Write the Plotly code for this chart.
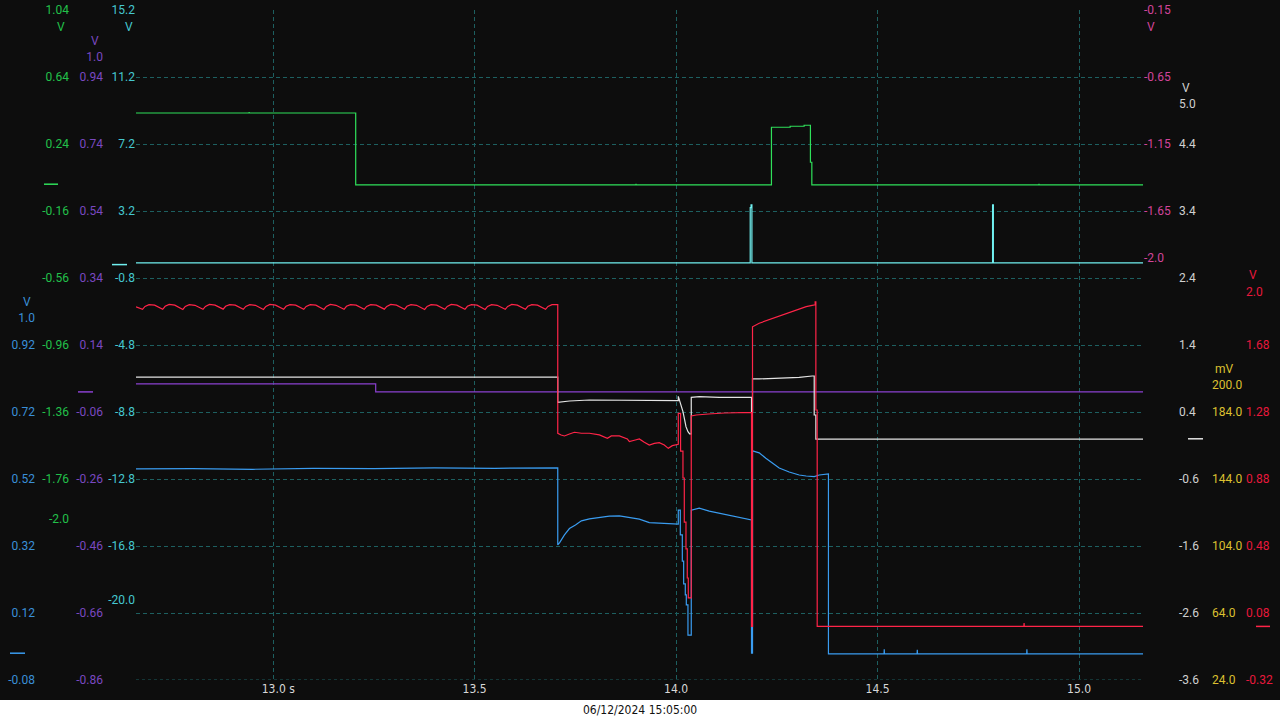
import plotly.graph_objects as go

# ---------------- data (time in s) ----------------
x_ticks = [13.0, 13.5, 14.0, 14.5, 15.0]
x_tick_text = ["\u00a0\u00a0\u00a013.0 s", "13.5", "14.0", "14.5", "15.0"]
date_label = "06/12/2024 15:05:00"

# axis tick values / labels
cyan_ticks = [15.2, 11.2, 7.2, 3.2, -0.8, -4.8, -8.8, -12.8, -16.8, -20.0]
cyan_text = ["15.2", "11.2", "7.2", "3.2", "-0.8", "-4.8", "-8.8", "-12.8", "-16.8", "-20.0"]
purple_ticks = [1.0, 0.94, 0.74, 0.54, 0.34, 0.14, -0.06, -0.26, -0.46, -0.66, -0.86]
purple_text = ["1.0", "0.94", "0.74", "0.54", "0.34", "0.14", "-0.06", "-0.26", "-0.46", "-0.66", "-0.86"]
green_ticks = [1.04, 0.64, 0.24, -0.16, -0.56, -0.96, -1.36, -1.76, -2.0]
green_text = ["1.04", "0.64", "0.24", "-0.16", "-0.56", "-0.96", "-1.36", "-1.76", "-2.0"]
blue_ticks = [1.0, 0.92, 0.72, 0.52, 0.32, 0.12, -0.08]
blue_text = ["1.0", "0.92", "0.72", "0.52", "0.32", "0.12", "-0.08"]
pink_ticks = [-0.15, -0.65, -1.15, -1.65, -2.0]
pink_text = ["-0.15", "-0.65", "-1.15", "-1.65", "-2.0"]
white_ticks = [5.0, 4.4, 3.4, 2.4, 1.4, 0.4, -0.6, -1.6, -2.6, -3.6]
white_text = ["5.0", "4.4", "3.4", "2.4", "1.4", "0.4", "-0.6", "-1.6", "-2.6", "-3.6"]
yellow_ticks = [200.0, 184.0, 144.0, 104.0, 64.0, 24.0]
yellow_text = ["200.0", "184.0", "144.0", "104.0", "64.0", "24.0"]
red_ticks = [2.0, 1.68, 1.28, 0.88, 0.48, 0.08, -0.32]
red_text = ["2.0", "1.68", "1.28", "0.88", "0.48", "0.08", "-0.32"]

# green channel (V)
green_t = [12.6597, 12.94, 12.9405, 12.941, 13.2049, 13.2049, 13.9, 13.9005, 13.901, 14.2366, 14.2366,
           14.2830, 14.2830, 14.3177, 14.3177, 14.3333, 14.3333, 14.3368, 14.3368, 14.90, 14.9005, 14.901, 15.1586]
green_v = [0.425, 0.425, 0.431, 0.425, 0.425, -0.004, -0.004, 0.002, -0.004, -0.004, 0.340,
           0.340, 0.346, 0.346, 0.352, 0.352, 0.131, 0.131, -0.004, -0.004, 0.002, -0.004, -0.004]

# purple channel (V)
purple_t = [12.6597, 13.2545, 13.2545, 15.1586]
purple_v = [0.024, 0.024, 0.0, 0.0]

# cyan channel (V)
cyan_t = [12.6597, 14.1839, 14.1839, 14.1860, 14.1860, 14.1881, 14.1881,
          14.7853, 14.7853, 14.7873, 14.7873, 15.1586]
cyan_v = [0.1, 0.1, 3.40, 3.40, 3.56, 3.56, 0.1,
          0.1, 3.56, 3.56, 0.1, 0.1]

# red channel (V)
red_t = [12.6597,
         12.676, 12.682, 12.692, 12.706, 12.716,
         12.726, 12.732, 12.742, 12.756, 12.766,
         12.776, 12.782, 12.792, 12.806, 12.816,
         12.826, 12.832, 12.842, 12.856, 12.866,
         12.876, 12.882, 12.892, 12.906, 12.916,
         12.926, 12.932, 12.942, 12.956, 12.966,
         12.976, 12.982, 12.992, 13.006, 13.016,
         13.026, 13.032, 13.042, 13.056, 13.066,
         13.076, 13.082, 13.092, 13.106, 13.116,
         13.126, 13.132, 13.142, 13.156, 13.166,
         13.176, 13.182, 13.192, 13.206, 13.216,
         13.226, 13.232, 13.242, 13.256, 13.266,
         13.276, 13.282, 13.292, 13.306, 13.316,
         13.326, 13.332, 13.342, 13.356, 13.366,
         13.376, 13.382, 13.392, 13.406, 13.416,
         13.426, 13.432, 13.442, 13.456, 13.466,
         13.476, 13.482, 13.492, 13.506, 13.516,
         13.526, 13.532, 13.542, 13.556, 13.566,
         13.576, 13.582, 13.592, 13.606, 13.616,
         13.626, 13.632, 13.642, 13.656, 13.666,
         13.676, 13.682, 13.692, 13.7063,
         13.7063, 13.7147, 13.7229, 13.7353, 13.7477, 13.7650, 13.7848, 13.8096, 13.8294,
         13.8393, 13.8592, 13.8790, 13.8840, 13.8988, 13.9087, 13.9211, 13.9335, 13.9459,
         13.9583, 13.9707, 13.9806, 13.9906, 14.0054,
         14.0054, 14.0111, 14.0111, 14.0170, 14.0170, 14.0203, 14.0203, 14.0245, 14.0245,
         14.0277, 14.0277, 14.0302, 14.0302, 14.0376, 14.0376,
         14.0500, 14.0800, 14.1200, 14.1871, 14.1871, 14.1896, 14.1896,
         14.2062, 14.2236, 14.2385, 14.2558, 14.2732, 14.2881, 14.3054, 14.3228, 14.3377, 14.3451,
         14.3451, 14.3468, 14.3468, 14.3501, 14.3501,
         14.8630, 14.8635, 14.8640, 15.1586]
red_v = [1.908,
         1.893, 1.910, 1.921, 1.918, 1.905,
         1.893, 1.911, 1.922, 1.918, 1.904,
         1.892, 1.910, 1.921, 1.917, 1.905,
         1.893, 1.910, 1.922, 1.918, 1.905,
         1.894, 1.911, 1.921, 1.918, 1.904,
         1.893, 1.910, 1.921, 1.917, 1.905,
         1.892, 1.910, 1.922, 1.918, 1.905,
         1.893, 1.911, 1.921, 1.918, 1.904,
         1.893, 1.910, 1.921, 1.918, 1.905,
         1.892, 1.910, 1.922, 1.917, 1.905,
         1.893, 1.911, 1.921, 1.918, 1.904,
         1.893, 1.910, 1.921, 1.918, 1.905,
         1.894, 1.910, 1.922, 1.918, 1.905,
         1.893, 1.911, 1.921, 1.917, 1.904,
         1.892, 1.910, 1.921, 1.918, 1.905,
         1.893, 1.910, 1.922, 1.918, 1.905,
         1.893, 1.911, 1.921, 1.918, 1.904,
         1.892, 1.910, 1.921, 1.917, 1.905,
         1.893, 1.910, 1.922, 1.918, 1.905,
         1.893, 1.911, 1.921, 1.918, 1.904,
         1.893, 1.910, 1.921, 1.921,
         1.153, 1.143, 1.137, 1.149, 1.159, 1.153, 1.153, 1.143, 1.123,
         1.137, 1.137, 1.119, 1.103, 1.113, 1.119, 1.099, 1.083, 1.093,
         1.097, 1.083, 1.063, 1.079, 1.087,
         1.272, 1.272, 1.047, 1.047, 0.886, 0.886, 0.623, 0.623, 0.463,
         0.463, 0.289, 0.289, 0.170, 0.170, 1.256,
         1.262, 1.268, 1.274, 1.278, 0.0, 0.0, 1.789,
         1.810, 1.825, 1.835, 1.849, 1.863, 1.879, 1.893, 1.909, 1.917, 1.920,
         1.937, 1.937, 1.292, 1.292, 0.0,
         0.0, 0.02, 0.0, 0.0]

# blue channel (V)
blue_t = [12.6597, 12.80, 12.95, 13.10, 13.25, 13.40, 13.55, 13.7063,
          13.7063, 13.7110, 13.7229, 13.7353, 13.7502, 13.7650, 13.7848, 13.8096, 13.8344,
          13.8592, 13.8840, 13.9087, 13.9335, 13.9583, 13.9831, 14.0054,
          14.0054, 14.0104, 14.0104, 14.0154, 14.0154, 14.0187, 14.0187, 14.0228, 14.0228,
          14.0253, 14.0253, 14.0294, 14.0294, 14.0376, 14.0376,
          14.0574, 14.0822, 14.1070, 14.1317, 14.1565, 14.1763, 14.1871, 14.1871, 14.1896, 14.1896,
          14.2062, 14.2227, 14.2385, 14.2558, 14.2806, 14.3054, 14.3228, 14.3427, 14.3551, 14.3780,
          14.3780, 14.516, 14.5165, 14.517, 14.598, 14.5985, 14.599, 14.870, 14.8705, 14.871, 15.1586]
blue_v = [0.550, 0.551, 0.549, 0.552, 0.551, 0.553, 0.552, 0.553,
          0.323, 0.330, 0.353, 0.372, 0.383, 0.395, 0.401, 0.406, 0.409,
          0.410, 0.406, 0.400, 0.390, 0.388, 0.385, 0.385,
          0.427, 0.427, 0.353, 0.353, 0.275, 0.275, 0.207, 0.207, 0.174,
          0.174, 0.144, 0.144, 0.054, 0.054, 0.427,
          0.433, 0.424, 0.418, 0.410, 0.406, 0.400, 0.398, 0.0, 0.0, 0.604,
          0.598, 0.582, 0.568, 0.553, 0.541, 0.532, 0.529, 0.527, 0.532, 0.535,
          -0.002, -0.002, 0.012, -0.002, -0.002, 0.010, -0.002, -0.002, 0.012, -0.002, -0.002]

# white channel (V)
white_t = [12.6597, 13.7063, 13.7063, 13.7353, 13.7848, 13.9583, 14.0054,
           14.0054, 14.0113, 14.0170, 14.0212, 14.0245, 14.0294, 14.0336, 14.0376,
           14.0376, 14.0574, 14.1070, 14.1871, 14.1871, 14.1896, 14.1896,
           14.2062, 14.2558, 14.3054, 14.3377, 14.3427, 14.3427, 14.3468, 14.3468, 15.1586]
white_v = [0.922, 0.922, 0.545, 0.564, 0.579, 0.572, 0.570,
           0.634, 0.519, 0.405, 0.281, 0.181, 0.106, 0.072, 0.072,
           0.619, 0.628, 0.619, 0.619, 0.405, 0.405, 0.893,
           0.893, 0.905, 0.918, 0.937, 0.937, 0.355, 0.355, -0.005, -0.005]

# ---------------- styling ----------------
BG = "#0d0d0d"
GRID = "#1d5f60"
C_GREEN_T, C_GREEN = "#22c04a", "#2fe05a"
C_PURPLE_T, C_PURPLE = "#7a48c0", "#8a40d0"
C_CYAN_T, C_CYAN = "#45c8d0", "#70f0f0"
C_BLUE_T, C_BLUE = "#3a8fd8", "#3a9cf0"
C_PINK_T = "#d2449a"
C_WHITE_T, C_WHITE = "#d0d0d0", "#e4e4e4"
C_YELLOW_T = "#dcc030"
C_RED_T, C_RED = "#e8183c", "#ff2448"

W, H = 1280, 720
PL, PR = 136, 1143   # plot area left/right px
PT, PB = 10, 680     # plot area top/bottom px
X_RANGE = [12.6597, 15.1586]

fig = go.Figure()

def add(t, v, color, yax):
    fig.add_trace(go.Scatter(x=t, y=v, mode="lines", yaxis=yax,
                             line=dict(color=color, width=1.2), hoverinfo="skip", showlegend=False))

add(blue_t, blue_v, C_BLUE, "y5")
add(red_t, red_v, C_RED, "y9")
add(white_t, white_v, C_WHITE, "y7")
add(green_t, green_v, C_GREEN, "y4")
add(cyan_t, cyan_v, C_CYAN, "y2")
add(purple_t, purple_v, C_PURPLE, "y3")

font_lbl = "Roboto, Noto Sans, sans-serif"

def yax(rng, ticks, text, color, side, pos=None, anchor=None):
    d = dict(range=rng, tickvals=ticks, ticktext=text, showgrid=False, zeroline=False,
             showline=False, ticks="", side=side, overlaying="y", fixedrange=True,
             tickfont=dict(color=color, size=12, family=font_lbl))
    if anchor:
        d["anchor"] = anchor
    else:
        d["anchor"] = "free"
        d["position"] = pos
    return d

def px(x):
    return x / W

fig.update_layout(
    width=W, height=H,
    paper_bgcolor=BG, plot_bgcolor=BG,
    margin=dict(l=0, r=0, t=PT, b=H - PB),
    xaxis=dict(domain=[px(PL), px(PR)], range=X_RANGE, tickvals=x_ticks, ticktext=x_tick_text,
               showgrid=True, gridcolor=GRID, griddash="4px,3px", gridwidth=1, zeroline=False,
               showline=False, ticks="", fixedrange=True,
               tickfont=dict(color="#d8d8d8", size=12, family="DejaVu Sans Condensed, Roboto")),
    yaxis=dict(range=[0, 10], tickvals=[1, 2, 3, 4, 5, 6, 7, 8, 9, 10], showticklabels=False,
               showgrid=True, gridcolor=GRID, griddash="4px,3px", gridwidth=1, zeroline=False,
               ticks="", fixedrange=True),
    yaxis2=yax([-24.8, 15.2], cyan_ticks, cyan_text, C_CYAN_T, "left", anchor="x"),
    yaxis3=yax([-0.86, 1.14], purple_ticks, purple_text, C_PURPLE_T, "left", pos=px(103)),
    yaxis4=yax([-2.96, 1.04], green_ticks, green_text, C_GREEN_T, "left", pos=px(69)),
    yaxis5=yax([-0.08, 1.92], blue_ticks, blue_text, C_BLUE_T, "left", pos=px(35)),
    yaxis6=yax([-5.15, -0.15], pink_ticks, pink_text, C_PINK_T, "right", anchor="x"),
    yaxis7=yax([-3.6, 6.4], white_ticks, white_text, C_WHITE_T, "right", pos=px(1178)),
    yaxis8=yax([24.0, 424.0], yellow_ticks, yellow_text, C_YELLOW_T, "right", pos=px(1211)),
    yaxis9=yax([-0.32, 3.68], red_ticks, red_text, C_RED_T, "right", pos=px(1245)),
)

# bottom dotted axis line
fig.add_shape(type="line", xref="paper", yref="y", x0=px(PL), x1=px(PR), y0=0, y1=0,
              line=dict(color=GRID, width=1, dash="dot"))

# white strip with date
fig.add_shape(type="rect", xref="paper", yref="paper", x0=0, x1=1,
              y0=-(H - PB) / (PB - PT), y1=-(700 - PB) / (PB - PT),
              fillcolor="#ffffff", line=dict(width=0), layer="below")
fig.add_annotation(text=date_label, xref="paper", yref="paper", x=0.5, y=-(710 - PB) / (PB - PT),
                   showarrow=False, xanchor="center", yanchor="middle",
                   font=dict(color="#111111", size=12, family="DejaVu Sans Condensed, Roboto"))

# unit labels
units = [
    ("V", 67, "right", "y4", 1.04, -17, C_GREEN_T),
    ("V", 135, "right", "y2", 15.2, -17, C_CYAN_T),
    ("V", 101, "right", "y3", 1.0, 16, C_PURPLE_T),
    ("V", 33, "right", "y5", 1.0, 16, C_BLUE_T),
    ("V", 1145, "left", "y6", -0.15, -17, C_PINK_T),
    ("V", 1180, "left", "y7", 5.0, 16, C_WHITE_T),
    ("mV", 1213, "left", "y8", 200.0, 16, C_YELLOW_T),
    ("V", 1247, "left", "y9", 2.0, 16, C_RED_T),
]
for txt, xp, anc, yr, yv, ys, col in units:
    fig.add_annotation(text=txt, xref="paper", yref=yr, x=px(xp), y=yv, yshift=ys,
                       xanchor=anc, yanchor="middle", showarrow=False,
                       font=dict(color=col, size=12, family=font_lbl))

# zero-level markers
markers = [
    (44, 58, "y4", C_GREEN),
    (112, 127, "y2", C_CYAN),
    (78, 93, "y3", C_PURPLE),
    (10, 25, "y5", C_BLUE),
    (1188, 1203, "y7", C_WHITE),
    (1256, 1270, "y9", C_RED),
]
for x0, x1, yr, col in markers:
    fig.add_shape(type="line", xref="paper", yref=yr, x0=px(x0), x1=px(x1), y0=0, y1=0,
                  line=dict(color=col, width=1.5))

fig.write_html("out.html", config={"displayModeBar": False},
               post_script="document.body.style.margin='0';document.body.style.overflow='hidden';")
